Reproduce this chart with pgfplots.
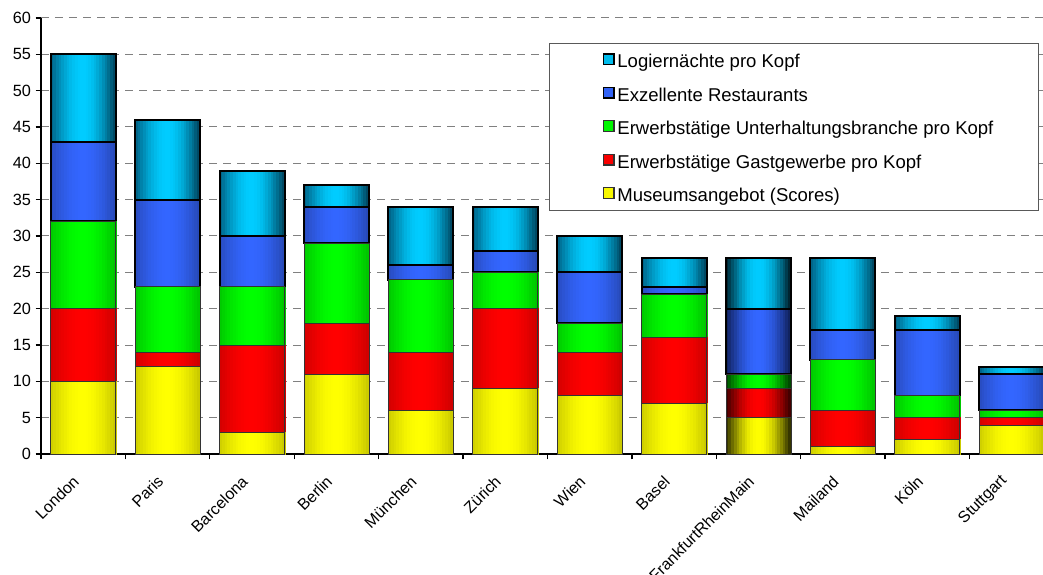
\documentclass[border=0pt]{standalone}
\usepackage{fontspec}
\setmainfont{Liberation Sans}
\usepackage{pgfplots}
\usepackage{pgfplotstable}
\pgfplotsset{compat=1.18}
\definecolor{cyL}{RGB}{0,95,130}\definecolor{cyM}{RGB}{0,204,255}\definecolor{cyR}{RGB}{0,65,90}\definecolor{cyD}{RGB}{0,25,35}
\definecolor{blL}{RGB}{40,75,190}\definecolor{blM}{RGB}{51,102,255}\definecolor{blR}{RGB}{38,72,180}\definecolor{blD}{RGB}{15,30,85}
\definecolor{grL}{RGB}{0,200,0}\definecolor{grM}{RGB}{0,255,0}\definecolor{grR}{RGB}{0,195,0}\definecolor{grD}{RGB}{0,60,0}
\definecolor{rdL}{RGB}{210,0,0}\definecolor{rdM}{RGB}{255,0,0}\definecolor{rdR}{RGB}{205,0,0}\definecolor{rdD}{RGB}{55,0,0}
\definecolor{yeL}{RGB}{205,205,0}\definecolor{yeM}{RGB}{255,255,0}\definecolor{yeR}{RGB}{200,200,0}\definecolor{yeD}{RGB}{40,40,0}
\tikzset{
  thinseg/.style={draw=black!80, line width=0.6pt},
  thickseg/.style={draw=black, line width=1.5pt},
}
% one segment: vertical strips shaded edge -> middle -> edge, drawn downward from the stacked top
\newcommand\gradbar[4]{%
  \foreach \i in {0,...,23}{%
    \pgfmathsetmacro\t{(\i+0.5)/24}%
    \pgfmathsetmacro\p{100*sin(180*\t)}%
    \ifdim\t pt<0.5pt \def\edge{#1}\else\def\edge{#3}\fi
    \fill[#2!\p!\edge] ({-24.375pt+2.03125pt*\i},0pt) rectangle ({-24.375pt+2.03125pt*(\i+1)+0.2pt},{-\hval*5.45pt});
  }%
  \path[#4] (-24.375pt,0pt) rectangle (24.375pt,{-\hval*5.45pt});}
\newcommand\segbar[5]{%
  \ifdim\dkval pt>0.5pt \gradbar{#4}{#2}{#4}{#5}\else \gradbar{#1}{#2}{#3}{#5}\fi}
\pgfdeclareplotmark{bye}{\segbar{yeL}{yeM}{yeR}{yeD}{thinseg}}
\pgfdeclareplotmark{brd}{\segbar{rdL}{rdM}{rdR}{rdD}{thinseg}}
\pgfdeclareplotmark{bgr}{\segbar{grL}{grM}{grR}{grD}{thinseg}}
\pgfdeclareplotmark{bbl}{\segbar{blL}{blM}{blR}{blD}{thickseg}}
\pgfdeclareplotmark{bcy}{\segbar{cyL}{cyM}{cyR}{cyD}{thickseg}}
\newcommand\legsq[3]{\path (0pt,-4pt) (46pt,4pt); \draw[fill=#1, draw=#2, line width=#3] (38pt,-3.5pt) rectangle (46pt,4.5pt);}
% x: city index; ye..cy: segment values (yellow, red, green, blue, cyan); dk: bar with darker shading
\pgfplotstableread{
x ye rd gr bl cy dk
0 10 10 12 11 12 0
1 12 2 9 12 11 0
2 3 12 8 7 9 0
3 11 7 11 5 3 0
4 6 8 10 2 8 0
5 9 11 5 3 6 0
6 8 6 4 7 5 0
7 7 9 6 1 4 0
8 5 4 2 9 7 1
9 1 5 7 4 10 0
10 2 3 3 9 2 0
11 4 1 1 5 1 0
}\data
\begin{document}
\begin{tikzpicture}
\begin{axis}[
  scale only axis, width=751.5pt, height=327pt,
  xmin=-0.5, xmax=11.37, ymin=0, ymax=60,
  axis x line*=bottom, axis y line*=left,
  axis line style={line width=1.5pt, black},
  stack plots=y,
  ytick={0,5,...,60},
  ymajorgrids, grid style={dash pattern=on 6pt off 4.5pt, line width=0.75pt, gray},
  xtick={0,...,11},
  xticklabels={London,Paris,Barcelona,Berlin,München,Zürich,Wien,Basel,FrankfurtRheinMain,Mailand,Köln,Stuttgart},
  minor xtick={-0.5,0.5,...,10.5},
  major x tick style={draw=none},
  minor x tick style={black, line width=1pt},
  major y tick style={black, line width=1pt},
  tick align=outside, major tick length=4pt, minor tick length=4pt,
  /pgf/number format/assume math mode=true,
  ticklabel style={font=\fontsize{12.2}{14}\selectfont},
  xticklabel style={xshift=-3pt, rotate=45, anchor=east, font=\fontsize{12}{14}\selectfont},
  xticklabel shift=12pt,
  reverse legend,
  legend style={at={(0.507,0.943)}, anchor=north west, draw=black!65, line width=0.75pt,
    inner xsep=2pt, inner ysep=3.5pt, row sep=7.2pt,
    font=\fontsize{13.9}{16}\selectfont,
    nodes={inner sep=2pt, text height=12.8pt, text depth=1.1pt}},
  legend cell align=left,
]
\coordinate (bl) at (rel axis cs:0,0);
\coordinate (tr) at (rel axis cs:1,1);
\addplot[only marks, mark=bye, visualization depends on={\thisrow{ye}\as\hval},
  visualization depends on={\thisrow{dk}\as\dkval},
  legend image code/.code={\legsq{yeM!85!yeL}{black!80}{0.8pt}}] table[x=x, y=ye] {\data};
\addlegendentry{Museumsangebot (Scores)}
\addplot[only marks, mark=brd, visualization depends on={\thisrow{rd}\as\hval},
  visualization depends on={\thisrow{dk}\as\dkval},
  legend image code/.code={\legsq{rdM!85!rdL}{black!80}{0.8pt}}] table[x=x, y=rd] {\data};
\addlegendentry{Erwerbstätige Gastgewerbe pro Kopf}
\addplot[only marks, mark=bgr, visualization depends on={\thisrow{gr}\as\hval},
  visualization depends on={\thisrow{dk}\as\dkval},
  legend image code/.code={\legsq{grM!85!grL}{black!80}{0.8pt}}] table[x=x, y=gr] {\data};
\addlegendentry{Erwerbstätige Unterhaltungsbranche pro Kopf}
\addplot[only marks, mark=bbl, visualization depends on={\thisrow{bl}\as\hval},
  visualization depends on={\thisrow{dk}\as\dkval},
  legend image code/.code={\legsq{blM!85!blL}{black}{1.1pt}}] table[x=x, y=bl] {\data};
\addlegendentry{Exzellente Restaurants}
\addplot[only marks, mark=bcy, visualization depends on={\thisrow{cy}\as\hval},
  visualization depends on={\thisrow{dk}\as\dkval},
  legend image code/.code={\legsq{cyM!85!cyL}{black}{1.1pt}}] table[x=x, y=cy] {\data};
\addlegendentry{\makebox[312pt][l]{Logiernächte pro Kopf}}
\end{axis}
\pgfresetboundingbox
\path ([shift={(-30.75pt,-90.75pt)}]bl) rectangle ([shift={(0pt,13.5pt)}]tr);
\end{tikzpicture}
\end{document}
